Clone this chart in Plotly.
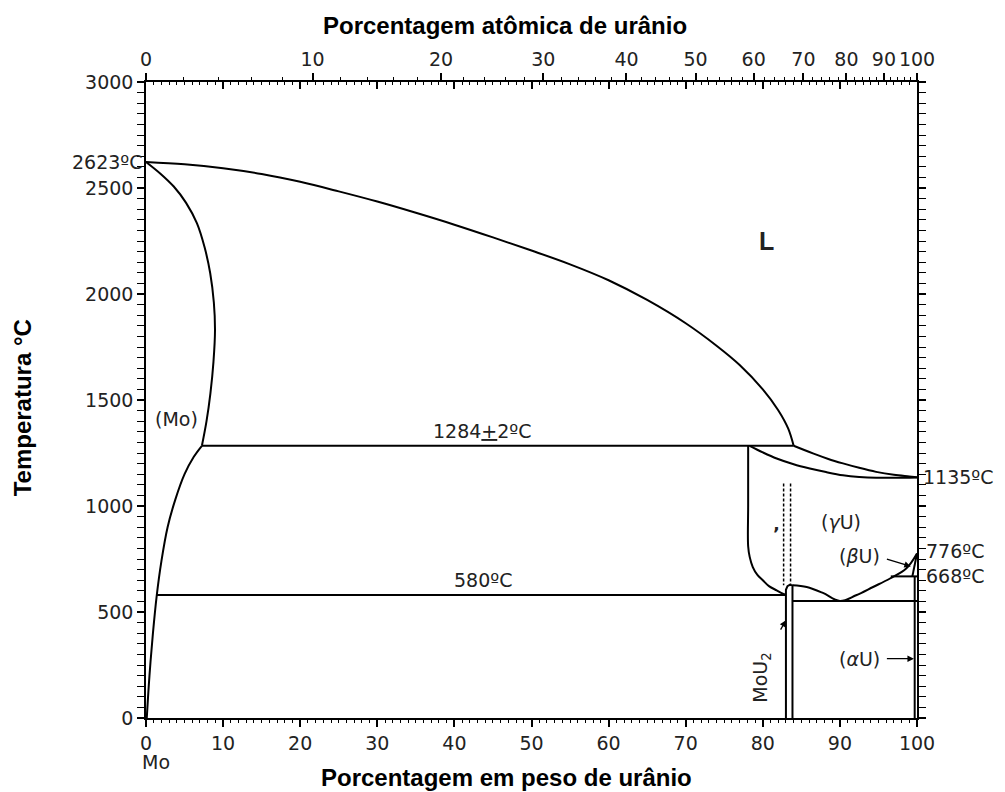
import plotly.graph_objects as go

# Mo-U phase diagram: composition in wt% U, temperature in °C
M_U, M_MO = 238.03, 95.95

# liquidus from pure Mo (2623 °C) to the peritectic at 1284 °C
liq_x = [0, 5, 10, 15, 20, 25, 30, 35, 40, 45, 50, 55, 60, 65, 70, 74, 77, 80, 82, 83.3, 84.0]
liq_y = [2623, 2612, 2593, 2566, 2529, 2484, 2436, 2383, 2327, 2267, 2205, 2140, 2065, 1972, 1862, 1756, 1665, 1550, 1452, 1365, 1284]

# liquidus of the U-rich side down to 1135 °C
liq2_x = [84.0, 86.5, 88.5, 90.4, 92.5, 94.7, 97.0, 99.0, 100]
liq2_y = [1284, 1248, 1222, 1201, 1180, 1161, 1147, 1139, 1135]

# solidus of (gamma U)
sol_g_x = [78.3, 80.0, 81.8, 84.0, 86.1, 88.2, 90.4, 92.5, 94.7, 97.0, 100]
sol_g_y = [1284, 1253, 1224, 1197, 1177, 1160, 1145, 1137, 1133, 1133, 1135]

# solidus of (Mo)
sol_mo_x = [0, 1.8, 3.6, 5.2, 6.6, 7.6, 8.33, 8.8, 8.95, 8.75, 8.35, 7.85, 7.25]
sol_mo_y = [2623, 2570, 2507, 2430, 2334, 2220, 2098, 1960, 1830, 1680, 1530, 1400, 1284]

# solvus of (Mo)
solv_mo_x = [7.25, 6.2, 5.0, 3.8, 2.8, 2.0, 1.4, 0.9, 0.45, 0.1]
solv_mo_y = [1284, 1232, 1150, 1030, 900, 740, 580, 400, 200, 0]

# (gamma U) boundary on the Mo side
gam_x = [78.1, 78.1, 78.1, 78.3, 78.7, 79.3, 80.0, 80.8, 81.8, 82.6, 83.0]
gam_y = [1284, 1000, 810, 760, 712, 675, 650, 622, 602, 587, 583]

# MoU2 compound (two walls and its top)
mou2_x = [83.0, 83.0, 83.2, 83.5, 83.85, 83.85]
mou2_y = [0, 605, 622, 628, 625, 0]

# (gamma U) boundary on the U side: eutectoid minimum and rise to 776 °C
gam2_x = [83.85, 85.7, 87.8, 90.0, 92.1, 94.3, 96.5, 98.6, 100]
gam2_y = [626, 618, 590, 552, 579, 618, 658, 705, 776]

# beta U wedge and alpha U solvus
beta_x = [99.4, 100]
beta_y = [668, 776]
alpha_x = [99.7, 99.7]
alpha_y = [0, 668]

# ordering lines of gamma' (dashed)
gp1_x, gp2_x = [82.7, 82.7], [83.6, 83.6]
gp_y = [1106, 626]

# isotherms
iso_1284 = dict(x=[7.25, 84.0], y=[1284, 1284])
iso_580 = dict(x=[1.4, 83.0], y=[580, 580])
iso_552 = dict(x=[83.85, 100], y=[552, 552])
iso_668 = dict(x=[96.6, 100], y=[668, 668])

# axis ticks
wt_ticks = list(range(0, 101, 10))
at_ticks = list(range(0, 101, 10))
at_minor = list(range(0, 101, 2))
y_ticks = list(range(0, 3001, 500))


def at_to_wt(a):
    return 100.0 * a * M_U / (a * M_U + (100 - a) * M_MO)


LINE = dict(color="black", width=2)
SMOOTH = dict(color="black", width=2, shape="spline", smoothing=1.0)
FONT = dict(family="DejaVu Sans", size=19, color="#222")

fig = go.Figure()


def curve(xs, ys, line=LINE):
    fig.add_trace(go.Scatter(x=xs, y=ys, mode="lines", line=line,
                             hoverinfo="skip", showlegend=False))


curve(liq_x, liq_y, SMOOTH)
curve(liq2_x, liq2_y, SMOOTH)
curve(sol_g_x, sol_g_y, SMOOTH)
curve(sol_mo_x, sol_mo_y, SMOOTH)
curve(solv_mo_x, solv_mo_y, SMOOTH)
curve(gam_x, gam_y, SMOOTH)
curve(mou2_x, mou2_y)
curve(gam2_x, gam2_y, SMOOTH)
curve(beta_x, beta_y)
curve(alpha_x, alpha_y)
for iso in (iso_1284, iso_580, iso_552, iso_668):
    curve(iso["x"], iso["y"])
dash = dict(color="black", width=1.5, dash="3px,2px")
curve(gp1_x, gp_y, dash)
curve(gp2_x, gp_y, dash)

# invisible traces to activate the top axes
fig.add_trace(go.Scatter(x=[0, 100], y=[0, 0], xaxis="x2", mode="lines",
                         line=dict(width=0), hoverinfo="skip", showlegend=False))
fig.add_trace(go.Scatter(x=[0, 100], y=[0, 0], xaxis="x3", mode="lines",
                         line=dict(width=0), hoverinfo="skip", showlegend=False))

axis_common = dict(showgrid=False, zeroline=False, showline=True,
                   linecolor="black", linewidth=1.5, tickcolor="black",
                   tickfont=FONT)

fig.update_layout(
    width=1005, height=792,
    margin=dict(l=146, r=88, t=82, b=74),
    paper_bgcolor="white", plot_bgcolor="white",
    xaxis=dict(range=[0, 100], tickmode="array", tickvals=wt_ticks,
               ticks="outside", ticklen=7, tickwidth=1.5,
               minor=dict(dtick=1, tick0=0, ticks="outside", ticklen=3,
                          tickwidth=1, tickcolor="black"),
               **axis_common),
    xaxis2=dict(range=[0, 100], overlaying="x", side="top", anchor="y",
                tickmode="array", tickvals=[at_to_wt(a) for a in at_ticks],
                ticktext=[str(a) for a in at_ticks],
                ticks="outside", ticklen=7, tickwidth=1.5,
                minor=dict(tickmode="array",
                           tickvals=[at_to_wt(a) for a in at_minor],
                           ticks="outside", ticklen=3, tickwidth=1,
                           tickcolor="black"),
                **axis_common),
    xaxis3=dict(range=[0, 100], overlaying="x", side="top", anchor="y",
                tickmode="array", tickvals=wt_ticks, showticklabels=False,
                ticks="inside", ticklen=7, tickwidth=1.5,
                minor=dict(dtick=1, tick0=0, ticks="inside", ticklen=3,
                           tickwidth=1, tickcolor="black"),
                **axis_common),
    yaxis=dict(range=[0, 3000], tickmode="array", tickvals=y_ticks,
               ticks="outside", ticklen=7, tickwidth=1.5, mirror="allticks",
               minor=dict(dtick=50, tick0=0, ticks="outside", ticklen=3,
                          tickwidth=1, tickcolor="black"),
               **axis_common),
)


def label(text, x, y, **kw):
    opts = dict(x=x, y=y, xref="x", yref="y", text=text, showarrow=False,
                font=FONT, xanchor="center", yanchor="middle")
    opts.update(kw)
    fig.add_annotation(**opts)


label("<b>L</b>", 80.5, 2250,
      font=dict(family="Liberation Sans", size=25, color="#222"))
label("(Mo)", 3.9, 1410)
label("1284<u>+</u>2ºC", 43.7, 1284, yanchor="bottom", yshift=2)
label("580ºC", 43.7, 580, yanchor="bottom", yshift=2)
label("(<i>γ</i>U)", 90.2, 925)
label("(<i>β</i>U)", 92.6, 765)
label("(<i>α</i>U)", 92.5, 280)
label("MoU<sub>2</sub>", 79.9, 190, textangle=-90)
label("<b>’</b>", 81.8, 870, font=dict(family="DejaVu Sans", size=18, color="#222"))

# temperatures written next to the axes
label("2623ºC", 0, 2623, xanchor="right", xshift=-1)
label("1135ºC", 100, 1135, xanchor="left", xshift=4)
label("776ºC", 100, 776, xanchor="left", xshift=7, yshift=2)
label("668ºC", 100, 668, xanchor="left", xshift=7)

# arrows pointing into the narrow phase fields
arrow = dict(showarrow=True, arrowhead=2, arrowsize=1, arrowwidth=1.3,
             arrowcolor="black", axref="x", ayref="y", text="")
fig.add_annotation(x=99.2, y=715, ax=95.9, ay=752, xref="x", yref="y", **arrow)
fig.add_annotation(x=99.6, y=280, ax=95.9, ay=280, xref="x", yref="y", **arrow)
fig.add_annotation(x=83.0, y=461, ax=82.2, ay=410, xref="x", yref="y", **arrow)

# axis titles and the Mo end label
TITLE = dict(family="Liberation Sans", size=24, color="black")
fig.add_annotation(text="<b>Porcentagem atômica de urânio</b>", xref="paper",
                   yref="paper", x=0.466, y=1.0896, xanchor="center",
                   yanchor="middle", showarrow=False, font=TITLE)
fig.add_annotation(text="<b>Porcentagem em peso de urânio</b>", xref="paper",
                   yref="paper", x=0.468, y=-0.0928, xanchor="center",
                   yanchor="middle", showarrow=False, font=TITLE)
fig.add_annotation(text="<b>Temperatura °C</b>", xref="paper", yref="paper",
                   x=-0.1608, y=0.487, xanchor="center", yanchor="middle",
                   textangle=-90, showarrow=False, font=TITLE)
fig.add_annotation(text="Mo", xref="x", yref="paper", x=0, y=-0.069,
                   xanchor="left", yanchor="middle", xshift=-6,
                   showarrow=False, font=FONT)

fig.write_html("out.html")
